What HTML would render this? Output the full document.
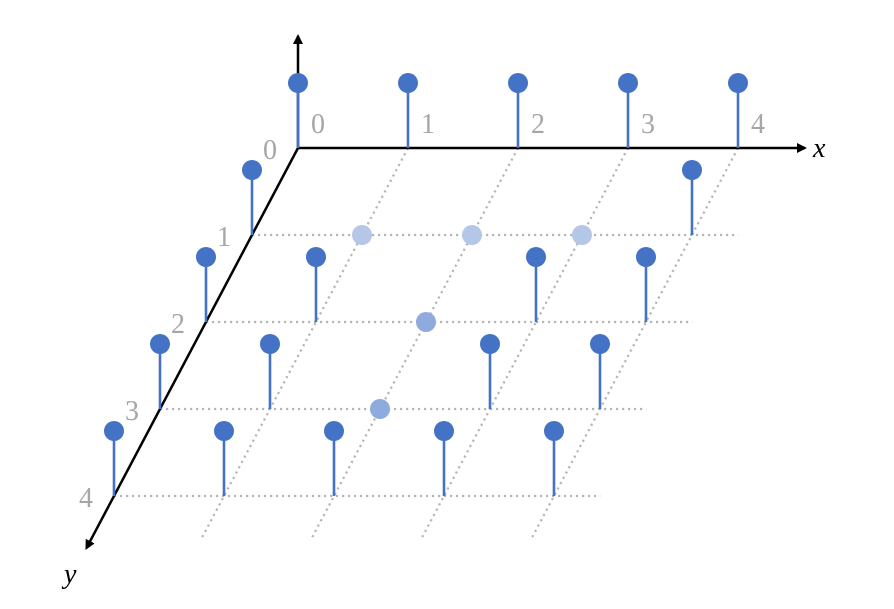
<!DOCTYPE html>
<html><head><meta charset="utf-8"><style>body{margin:0;background:#fff}svg{display:block}</style></head>
<body>
<svg id="c" width="894" height="609" xmlns="http://www.w3.org/2000/svg">
<defs><marker id="ah" markerWidth="10" markerHeight="10" refX="8" refY="5" orient="auto" markerUnits="userSpaceOnUse"><path d="M0,0 L10,5 L0,10 z" fill="#000"/></marker></defs>
</svg>
<script>
const xTicks=["0","1","2","3","4"];
const yTicks=["0","1","2","3","4"];
// stem heights per row (y) and column (x); 0 = dot only
const heights=[
 [1,1,1,1,1],
 [1,0,0,0,1],
 [1,1,0,1,1],
 [1,1,0,1,1],
 [1,1,1,1,1]];
// dot shade: 0 dark, 1 light, 2 medium
const shades=[
 [0,0,0,0,0],
 [0,1,1,1,0],
 [0,0,2,0,0],
 [0,0,2,0,0],
 [0,0,0,0,0]];
const NS="http://www.w3.org/2000/svg";
const svg=document.getElementById('c');
const O=[298,148],UX=[110,0],UY=[-46,87],H=65;
function P(x,y){return [O[0]+x*UX[0]+y*UY[0],O[1]+x*UX[1]+y*UY[1]];}
function el(t,a,p){const e=document.createElementNS(NS,t);for(const k in a)e.setAttribute(k,a[k]);(p||svg).appendChild(e);return e;}
const nx=xTicks.length,ny=yTicks.length;
for(let y=1;y<ny;y++){const a=P(0,y),b=P(nx-1+0.42,y);
 const l=el('line',{x1:a[0],y1:a[1],x2:b[0],y2:b[1],stroke:'#b5b5b5','stroke-width':2.2,'stroke-dasharray':'2.2,3.8'});
 
 }
for(let x=1;x<nx;x++){const a=P(x,0),b=P(x,ny-1+0.5);
 const l=el('line',{x1:a[0],y1:a[1],x2:b[0],y2:b[1],stroke:'#b5b5b5','stroke-width':2.2,'stroke-dasharray':'2.2,3.8'});
 
 }
let e;
e=el('line',{x1:O[0],y1:O[1],x2:805,y2:O[1],stroke:'#000','stroke-width':2.5,'marker-end':'url(#ah)'});


const ye=P(0,4.6);
e=el('line',{x1:O[0],y1:O[1],x2:ye[0],y2:ye[1],stroke:'#000','stroke-width':2.5,'marker-end':'url(#ah)'});


e=el('line',{x1:O[0],y1:O[1],x2:O[0],y2:36,stroke:'#000','stroke-width':2.5,'marker-end':'url(#ah)'});


e=el('text',{x:813,y:157,'font-family':'Liberation Serif, serif','font-style':'italic','font-size':28,fill:'#000'});e.textContent='x';


e=el('text',{x:64,y:583,'font-family':'Liberation Serif, serif','font-style':'italic','font-size':28,fill:'#000'});e.textContent='y';


xTicks.forEach((t,i)=>{const p=P(i,0);const tx=el('text',{x:p[0]+13,y:p[1]-15,'font-family':'Liberation Serif, serif','font-size':28,fill:'#a6a6a6'});tx.textContent=t;
 
 });
yTicks.forEach((t,i)=>{const p=P(0,i);const tx=el('text',{x:p[0]-35,y:p[1]+11,'font-family':'Liberation Serif, serif','font-size':28,fill:'#a6a6a6'});tx.textContent=t;
 
 });
const cols=['#4472C4','#B4C7E7','#8FAADC'];
for(let y=0;y<ny;y++)for(let x=0;x<nx;x++){
 const p=P(x,y),h=heights[y][x]*H;
 if(h>0){const s=el('line',{x1:p[0],y1:p[1],x2:p[0],y2:p[1]-h,stroke:'#4472C4','stroke-width':2.6});
  
  }
 const c=el('circle',{cx:p[0],cy:p[1]-h,r:10,fill:cols[shades[y][x]]});
 
 
}
</script>
</body></html>
